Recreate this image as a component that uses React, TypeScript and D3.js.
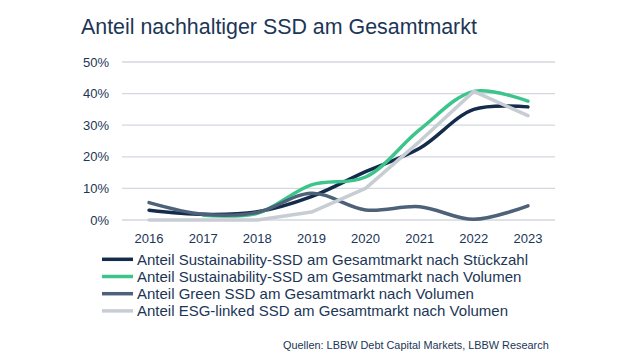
import React from 'react';
import { scalePoint, scaleLinear, line, curveCatmullRom, curveLinear } from 'd3';

// data (null = no value shown)
const years = ['2016', '2017', '2018', '2019', '2020', '2021', '2022', '2023'];
const stueckzahl = [3.1, 1.8, 2.6, 7.4, 15.3, 22.7, 35.0, 35.8];
const volumen = [null, 1.5, 2.1, 11.1, 13.6, 28.6, 40.7, 37.6];
const greenSsd = [5.5, 1.8, 2.4, 8.5, 3.2, 4.2, 0.2, 4.5];
const esgLinked = [0, 0, 0, 2.5, 10.0, 24.9, 40.7, 33.0];
const yTicks = [0, 10, 20, 30, 40, 50];
const seriesNames = [
  'Anteil Sustainability-SSD am Gesamtmarkt nach Stückzahl',
  'Anteil Sustainability-SSD am Gesamtmarkt nach Volumen',
  'Anteil Green SSD am Gesamtmarkt nach Volumen',
  'Anteil ESG-linked SSD am Gesamtmarkt nach Volumen'
];

const colors = ['#132c4c', '#3cc48c', '#4d6279', '#c8cdd4'];
const textColor = '#1c3656';
const font = '"Liberation Sans", Arial, sans-serif';

const plot = { left: 122, right: 555, top: 62, bottom: 220 };

export default function App() {
  const x = scalePoint<string>()
    .domain(years)
    .range([plot.left, plot.right])
    .padding(0.5);
  const y = scaleLinear().domain([0, 50]).range([plot.bottom, plot.top]);

  const smooth = line<number | null>()
    .defined(d => d != null)
    .x((_, i) => x(years[i]) as number)
    .y(d => y(d as number))
    .curve(curveCatmullRom);
  const straight = line<number | null>()
    .defined(d => d != null)
    .x((_, i) => x(years[i]) as number)
    .y(d => y(d as number))
    .curve(curveLinear);

  const series = [
    { values: stueckzahl, gen: smooth },
    { values: volumen, gen: smooth },
    { values: greenSsd, gen: smooth },
    { values: esgLinked, gen: straight }
  ];

  return (
    <svg
      width={640}
      height={360}
      style={{ position: 'absolute', left: 0, top: 0, background: '#fff' }}
      fontFamily={font}
    >
      <text x={81} y={34} fontSize={21.4} fill={textColor}>
        Anteil nachhaltiger SSD am Gesamtmarkt
      </text>

      {yTicks.map(t => (
        <g key={t}>
          <line
            x1={plot.left}
            x2={plot.right}
            y1={y(t)}
            y2={y(t)}
            stroke="#d3d8df"
            strokeWidth={1.3}
          />
          <text
            x={109}
            y={y(t) + 4.5}
            fontSize={13}
            textAnchor="end"
            fill={textColor}
          >
            {t}%
          </text>
        </g>
      ))}

      {years.map(yr => (
        <text
          key={yr}
          x={x(yr)}
          y={242.5}
          fontSize={13}
          textAnchor="middle"
          fill={textColor}
        >
          {yr}
        </text>
      ))}

      {series.map((s, i) => (
        <path
          key={i}
          d={s.gen(s.values) || ''}
          fill="none"
          stroke={colors[i]}
          strokeWidth={3.5}
          strokeLinejoin="round"
          strokeLinecap="round"
        />
      ))}

      {seriesNames.map((name, i) => {
        const ly = 259.3 + i * 17.2;
        return (
          <g key={name}>
            <line x1={102} x2={133} y1={ly} y2={ly} stroke={colors[i]} strokeWidth={3.5} />
            <text x={137} y={ly + 5.3} fontSize={15} fill={textColor}>
              {name}
            </text>
          </g>
        );
      })}

      <text x={283} y={349} fontSize={10.9} fill={textColor}>
        Quellen: LBBW Debt Capital Markets, LBBW Research
      </text>
    </svg>
  );
}
